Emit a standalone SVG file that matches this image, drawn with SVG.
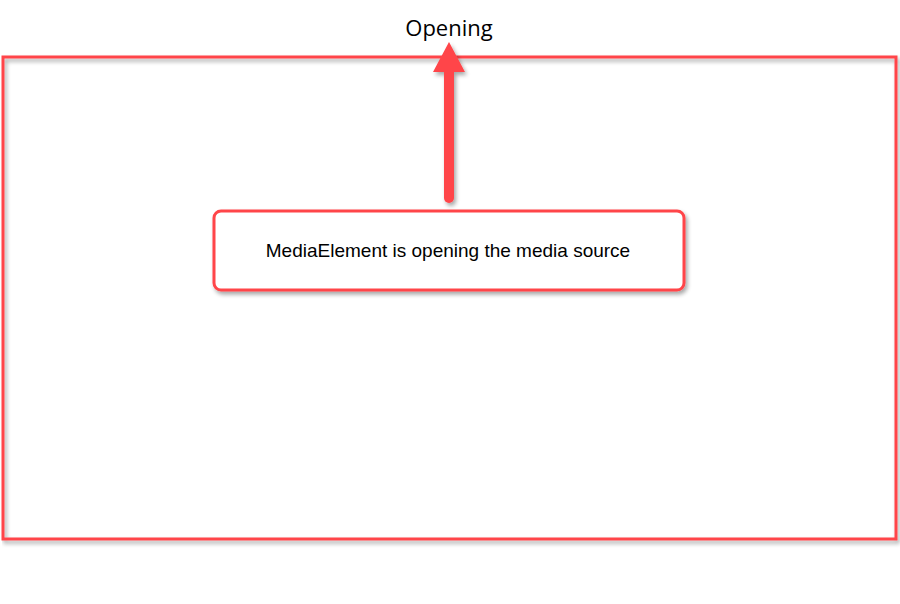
<svg xmlns="http://www.w3.org/2000/svg" width="900" height="604" viewBox="0 0 900 604">
<defs>
<filter id="sh" filterUnits="userSpaceOnUse" x="0" y="0" width="900" height="604">
<feGaussianBlur in="SourceAlpha" stdDeviation="2"/>
<feOffset dx="2" dy="3" result="b"/>
<feComponentTransfer><feFuncA type="linear" slope="0.35"/></feComponentTransfer>
<feMerge><feMergeNode/><feMergeNode in="SourceGraphic"/></feMerge>
</filter>
</defs>
<style>
.frame{fill:none;stroke:#FF4548;stroke-width:3}
.box{fill:#fff;stroke:#FF4548;stroke-width:3}
.t{font-family:"Liberation Sans",Arial,sans-serif;font-size:19px;fill:#000;text-anchor:middle}
.title{font-family:"Open Sans","Noto Sans",sans-serif;font-size:22px;fill:#000;text-anchor:middle}
</style>
<g id="state-opening">
<rect class="frame" x="3" y="57" width="893" height="482" filter="url(#sh)"/>
<text class="title" x="449" y="36">Opening</text>
</g>
<g id="connectors" filter="url(#sh)">
<path d="M444,71 L454,71 L454,198 A5,5 0 0 1 444,198 Z" fill="#FF4548"/>
<path d="M433,72 L449,42 L465,72 Z" fill="#FF4548"/>
</g>
<g id="node-media">
<rect class="box" x="214" y="211" width="470" height="79" rx="7" filter="url(#sh)"/>
<text class="t" x="448" y="257">MediaElement is opening the media source</text>
</g>
</svg>
